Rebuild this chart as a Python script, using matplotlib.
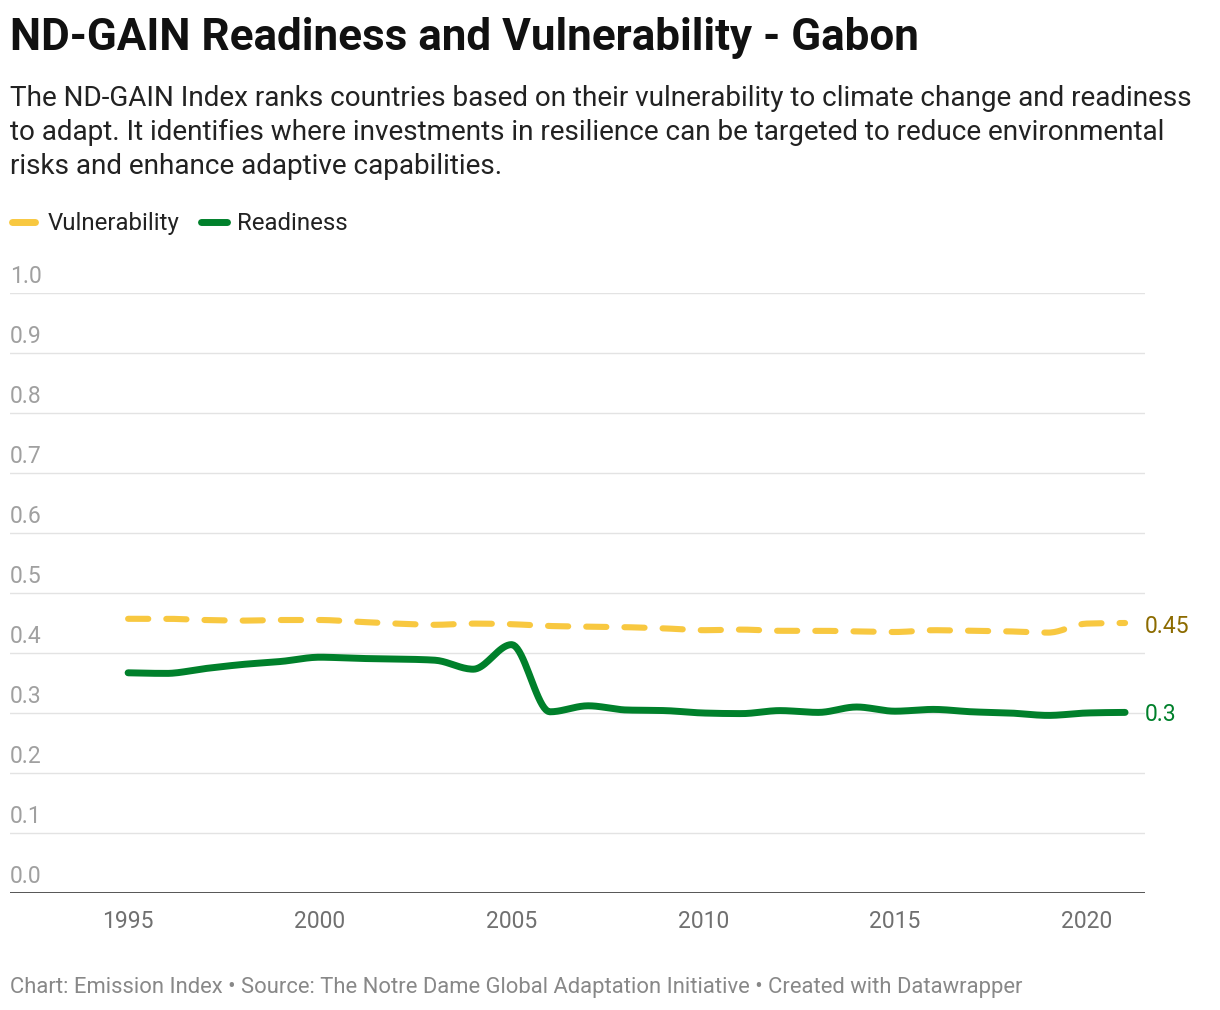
import numpy as np
import matplotlib
matplotlib.use("Agg")
import matplotlib.pyplot as plt

plt.rcParams['font.family'] = ['Roboto', 'DejaVu Sans']

# data
years = list(range(1995, 2022))
vulnerability = [0.457, 0.457, 0.455, 0.454, 0.455, 0.455, 0.452, 0.449, 0.447, 0.449,
                 0.448, 0.445, 0.444, 0.443, 0.441, 0.438, 0.439, 0.437, 0.437, 0.436,
                 0.435, 0.438, 0.437, 0.436, 0.434, 0.449, 0.450]
readiness = [0.367, 0.366, 0.374, 0.381, 0.386, 0.393, 0.391, 0.390, 0.388, 0.373,
             0.414, 0.302, 0.312, 0.305, 0.304, 0.300, 0.299, 0.304, 0.301, 0.310,
             0.303, 0.306, 0.302, 0.300, 0.296, 0.300, 0.301]
y_ticks = [0.0, 0.1, 0.2, 0.3, 0.4, 0.5, 0.6, 0.7, 0.8, 0.9, 1.0]
x_ticks = [1995, 2000, 2005, 2010, 2015, 2020]

title = "ND-GAIN Readiness and Vulnerability - Gabon"
subtitle = ["The ND-GAIN Index ranks countries based on their vulnerability to climate change and readiness",
            "to adapt. It identifies where investments in resilience can be targeted to reduce environmental",
            "risks and enhance adaptive capabilities."]
footer = "Chart: Emission Index \u2022 Source: The Notre Dame Global Adaptation Initiative \u2022 Created with Datawrapper"

YELLOW = "#f8c840"
GREEN = "#00802b"


def monotone_curve(x, y, n=20):
    # monotone cubic smoothing like d3.curveMonotoneX, only for drawing
    x = np.asarray(x, float)
    y = np.asarray(y, float)
    h = np.diff(x)
    s = np.diff(y) / h
    m = np.zeros_like(y)
    for i in range(1, len(y) - 1):
        if s[i - 1] * s[i] <= 0:
            m[i] = 0
        else:
            p = (s[i - 1] * h[i] + s[i] * h[i - 1]) / (h[i - 1] + h[i])
            m[i] = np.sign(s[i - 1]) * min(abs(s[i - 1]), abs(s[i]), 0.5 * abs(p)) * 2
    m[0] = (3 * s[0] - m[1]) / 2
    m[-1] = (3 * s[-1] - m[-2]) / 2
    xs, ys = [], []
    for i in range(len(x) - 1):
        t = np.linspace(0, 1, n, endpoint=False)
        h00 = 2 * t**3 - 3 * t**2 + 1
        h10 = t**3 - 2 * t**2 + t
        h01 = -2 * t**3 + 3 * t**2
        h11 = t**3 - t**2
        xs.extend(x[i] + t * h[i])
        ys.extend(h00 * y[i] + h10 * h[i] * m[i] + h01 * y[i + 1] + h11 * h[i] * m[i + 1])
    xs.append(x[-1])
    ys.append(y[-1])
    return np.array(xs), np.array(ys)


fig = plt.figure(figsize=(12.2, 10.1), dpi=100)
ax = fig.add_axes([10 / 1220, 117 / 1010, 1135 / 1220, 600 / 1010])

ax.set_xlim(1991.92, 2021.52)
ax.set_ylim(0, 1.0)

for v in y_ticks[1:]:
    ax.axhline(v, color="#e3e3e3", lw=1.0, zorder=1)
ax.axhline(0, color="#222222", lw=1.8, zorder=3)

vx, vy = monotone_curve(years, vulnerability)
ax.plot(vx, vy, color=YELLOW, lw=4.4, dashes=(3.3, 2.95), solid_capstyle="round",
        dash_capstyle="round", zorder=4)
rx, ry = monotone_curve(years, readiness)
ax.plot(rx, ry, color=GREEN, lw=5.0, solid_capstyle="round", zorder=5)

ax.text(2021.52, vulnerability[-1] - 0.006, "0.45", color="#8c6b00", fontsize=16.5,
        va="center", ha="left", clip_on=False)
ax.text(2021.52, readiness[-1] - 0.004, "0.3", color="#00802b", fontsize=16.5,
        va="center", ha="left", clip_on=False)

for v in y_ticks:
    ax.text(1991.92, v + 0.008, f"{v:.1f}", color="#a0a0a0", fontsize=16.5,
            ha="left", va="bottom")

ax.set_xticks(x_ticks)
ax.set_xticklabels([str(t) for t in x_ticks], fontsize=16.5, color="#707070")
ax.tick_params(axis="x", length=0, pad=12)
ax.set_yticks([])
for sp in ax.spines.values():
    sp.set_visible(False)

fig.text(10 / 1220, 1 - 50 / 1010, title, fontsize=31.7, fontweight="bold",
         color="#111111", va="baseline", ha="left")
for i, line in enumerate(subtitle):
    fig.text(10 / 1220, 1 - (106 + 34 * i) / 1010, line, fontsize=20.1,
             color="#222222", va="baseline", ha="left")

# legend
fig.add_artist(plt.Line2D([12 / 1220, 35 / 1220], [1 - 222 / 1010] * 2, color=YELLOW,
                          lw=5.0, solid_capstyle="round"))
fig.text(48 / 1220, 1 - 230 / 1010, "Vulnerability", fontsize=17.3, color="#222222",
         va="baseline", ha="left")
fig.add_artist(plt.Line2D([201 / 1220, 227 / 1220], [1 - 222 / 1010] * 2, color=GREEN,
                          lw=5.0, solid_capstyle="round"))
fig.text(237 / 1220, 1 - 230 / 1010, "Readiness", fontsize=17.3, color="#222222",
         va="baseline", ha="left")

fig.text(10 / 1220, 1 - 993 / 1010, footer, fontsize=15.8, color="#888888",
         va="baseline", ha="left")

fig.savefig("out.png", dpi=100)
